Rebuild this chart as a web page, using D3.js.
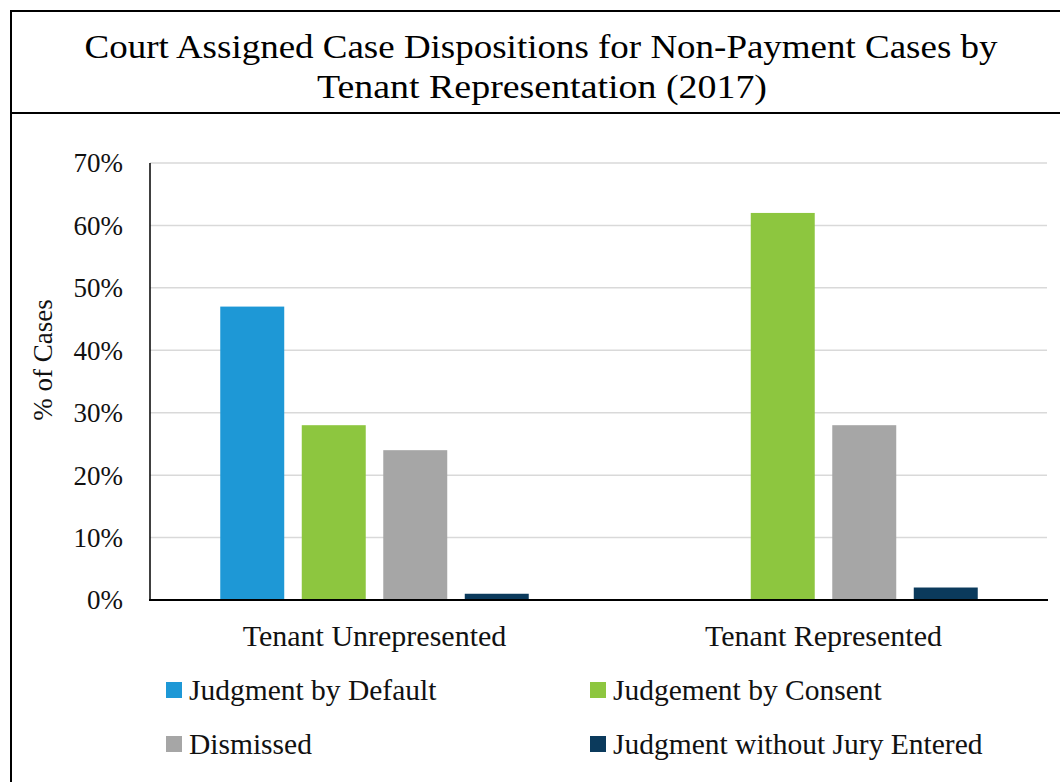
<!DOCTYPE html>
<html>
<head>
<meta charset="utf-8">
<script src="https://cdn.jsdelivr.net/npm/d3@7"></script>
<style>
  body { margin: 0; background: #fff; }
  svg { display: block; font-family: "Liberation Serif", "DejaVu Serif", serif; }
</style>
</head>
<body>
<svg id="chart" width="1060" height="782"></svg>
<script>
// data
const categories = ["Tenant Unrepresented", "Tenant Represented"];
const seriesNames = ["Judgment by Default", "Judgement by Consent", "Dismissed", "Judgment without Jury Entered"];
const seriesColors = ["#1e98d6", "#8dc63f", "#a6a6a6", "#0b3a5c"];
const unrepresented = [47, 28, 24, 1];
const represented = [0, 62, 28, 2];
const yTicks = [0, 10, 20, 30, 40, 50, 60, 70];

const values = [unrepresented, represented];

const svg = d3.select("#chart");

// outer frame + title box
svg.append("rect")
    .attr("x", 11).attr("y", 11)
    .attr("width", 1070).attr("height", 800)
    .attr("fill", "none").attr("stroke", "#000").attr("stroke-width", 2);
svg.append("line")
    .attr("x1", 11).attr("x2", 1060)
    .attr("y1", 113).attr("y2", 113)
    .attr("stroke", "#000").attr("stroke-width", 2);

const title = svg.append("text")
    .attr("text-anchor", "middle")
    .style("font-size", "34px")
    .attr("fill", "#000");
title.append("tspan").attr("x", 541).attr("y", 58)
    .attr("textLength", 913).attr("lengthAdjust", "spacingAndGlyphs")
    .text("Court Assigned Case Dispositions for Non-Payment Cases by");
title.append("tspan").attr("x", 542).attr("y", 98)
    .attr("textLength", 450).attr("lengthAdjust", "spacingAndGlyphs")
    .text("Tenant Representation (2017)");

const margin = { left: 150, top: 163, right: 1048, bottom: 600 };

const x0 = d3.scaleBand()
    .domain(categories)
    .range([margin.left, margin.right])
    .paddingInner(0);

const x1 = d3.scaleBand()
    .domain(seriesNames)
    .range([0, x0.bandwidth()])
    .paddingInner(0.215)
    .paddingOuter(0.862);

const y = d3.scaleLinear()
    .domain([0, 70])
    .range([margin.bottom, margin.top]);

// gridlines
svg.append("g")
    .selectAll("line")
    .data(yTicks.filter(d => d > 0))
    .join("line")
        .attr("x1", margin.left).attr("x2", margin.right - 1)
        .attr("y1", d => y(d)).attr("y2", d => y(d))
        .attr("stroke", "#d9d9d9").attr("stroke-width", 1.5);

// y tick labels
svg.append("g")
    .selectAll("text")
    .data(yTicks)
    .join("text")
        .attr("x", 123)
        .attr("y", d => y(d))
        .attr("dy", "0.35em")
        .attr("text-anchor", "end")
        .style("font-size", "27px")
        .attr("fill", "#111")
        .text(d => d + "%");

// y axis title
svg.append("text")
    .attr("transform", "translate(52,360) rotate(-90)")
    .attr("text-anchor", "middle")
    .style("font-size", "27px")
    .attr("fill", "#111")
    .text("% of Cases");

// bars
svg.append("g")
    .selectAll("g")
    .data(categories)
    .join("g")
        .attr("transform", d => `translate(${x0(d)},0)`)
    .selectAll("rect")
    .data((d, i) => values[i].map((v, j) => ({ key: seriesNames[j], value: v, color: seriesColors[j] })))
    .join("rect")
        .attr("x", d => x1(d.key))
        .attr("y", d => y(d.value))
        .attr("width", x1.bandwidth())
        .attr("height", d => y(0) - y(d.value))
        .attr("fill", d => d.color);

// axes lines
svg.append("line")
    .attr("x1", margin.left).attr("x2", margin.left)
    .attr("y1", margin.top).attr("y2", margin.bottom)
    .attr("stroke", "#000").attr("stroke-width", 1.5);
svg.append("line")
    .attr("x1", margin.left - 1).attr("x2", margin.right)
    .attr("y1", margin.bottom).attr("y2", margin.bottom)
    .attr("stroke", "#000").attr("stroke-width", 2);

// category labels
svg.append("g")
    .selectAll("text")
    .data(categories)
    .join("text")
        .attr("x", d => x0(d) + x0.bandwidth() / 2)
        .attr("y", 646)
        .attr("text-anchor", "middle")
        .style("font-size", "30px")
        .attr("fill", "#111")
        .text(d => d);

// legend
const legendPos = [[166, 690], [590, 690], [166, 744], [590, 744]];
const legend = svg.append("g")
    .selectAll("g")
    .data(seriesNames)
    .join("g")
        .attr("transform", (d, i) => `translate(${legendPos[i][0]},${legendPos[i][1]})`);
legend.append("rect")
    .attr("x", 0).attr("y", -8)
    .attr("width", 16).attr("height", 16)
    .attr("fill", (d, i) => seriesColors[i]);
legend.append("text")
    .attr("x", 23)
    .attr("dy", "0.35em")
    .style("font-size", "29.5px")
    .attr("fill", "#111")
    .text(d => d);
</script>
</body>
</html>
